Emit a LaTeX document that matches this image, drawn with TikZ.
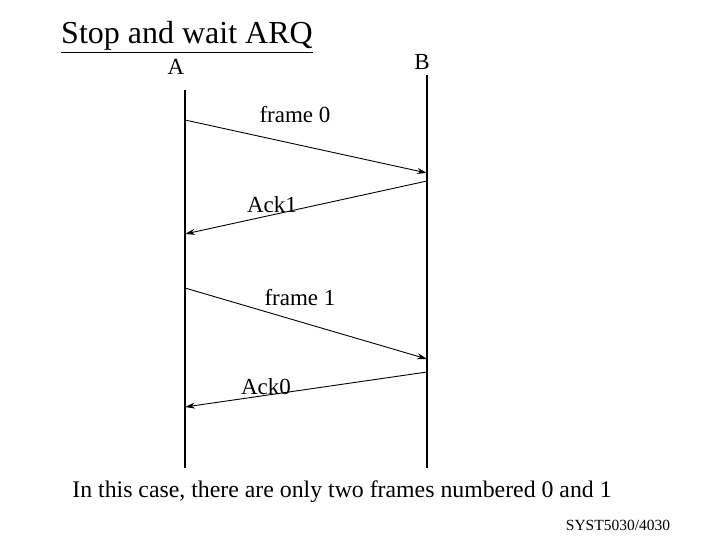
\documentclass[tikz,border=0pt]{standalone}
\usepackage{fontspec}
\usetikzlibrary{arrows.meta}
\setmainfont{Liberation Serif}
\begin{document}
\begin{tikzpicture}[x=1pt,y=-1pt,
  msg/.style={-{Stealth[length=10pt,width=6pt]},line width=0.9pt},
  lbl/.style={inner sep=0pt,font=\fontsize{23}{27}\selectfont},
  life/.style={line width=1.2pt}]
\useasboundingbox (0,0) rectangle (720,540);
\node[inner sep=0pt,font=\fontsize{32}{38}\selectfont] (title) at (187,37) {\underline{Stop and wait ARQ}};
\node[lbl] (A) at (176,67) {A};
\node[lbl] (B) at (422,62) {B};
\coordinate (at) at (185,90); \coordinate (ab) at (185,468);
\coordinate (bt) at (427,75); \coordinate (bb) at (427,468);
\draw[life] (at) -- (ab);
\draw[life] (bt) -- (bb);
\coordinate (f0s) at (185,120); \coordinate (f0e) at (427,173);
\coordinate (a1s) at (427,181); \coordinate (a1e) at (185,234);
\coordinate (f1s) at (185,288); \coordinate (f1e) at (427,359);
\coordinate (a0s) at (427,372); \coordinate (a0e) at (185,407);
\draw[msg] (f0s) -- (f0e);
\draw[msg] (a1s) -- (a1e);
\draw[msg] (f1s) -- (f1e);
\draw[msg] (a0s) -- (a0e);
\node[lbl] (l1) at (295,115) {frame 0};
\node[lbl] (l2) at (272,205) {Ack1};
\node[lbl] (l3) at (300,298) {frame 1};
\node[lbl] (l4) at (266,387) {Ack0};
\node[inner sep=0pt,font=\fontsize{23.8}{28}\selectfont] (note) at (342,492) {In this case, there are only two frames numbered 0 and 1};
\node[inner sep=0pt,font=\fontsize{15.5}{18}\selectfont] (src) at (618,525) {SYST5030/4030};
\end{tikzpicture}
\end{document}
